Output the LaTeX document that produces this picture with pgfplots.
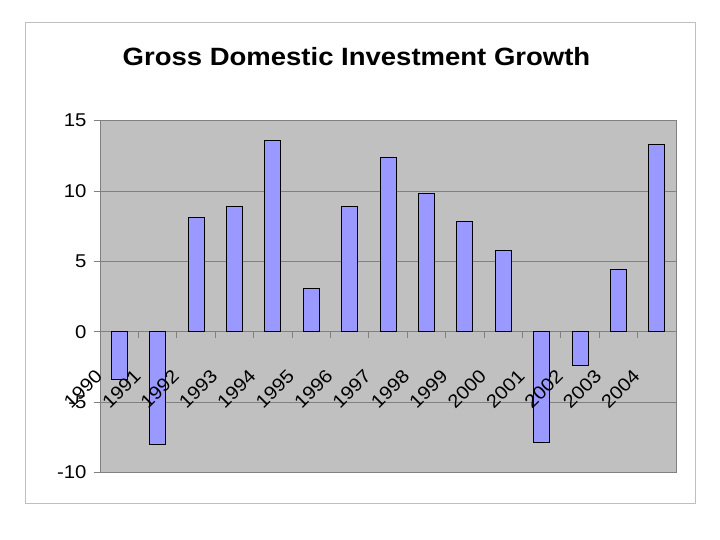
\documentclass[border=0pt]{standalone}
\usepackage{fontspec}
\setmainfont{Liberation Sans}[FakeStretch=1.1]
\usepackage{pgfplots}
\pgfplotsset{compat=1.18}
\definecolor{plotbg}{HTML}{C0C0C0}
\definecolor{barfill}{HTML}{9999FF}
\definecolor{gridc}{HTML}{808080}
\pgfplotsset{
  common/.style={
    at={(100pt,-472.5pt)}, anchor=south west,
    width=576pt, height=352pt, scale only axis,
    xmin=-0.5, xmax=14.5, ymin=-10, ymax=15,
    hide obscured x ticks=false, hide obscured y ticks=false,
    ticklabel style={font=\fontsize{18.5}{20}\selectfont},
    /pgf/number format/assume math mode=true,
  },
}
\begin{document}
\begin{tikzpicture}[x=1pt,y=1pt]
\useasboundingbox (0,0) rectangle (720,-540);
\draw[color=black!25, line width=0.8pt] (25,-22) rectangle (695,-503);
\node[anchor=base, font=\fontsize{25}{30}\selectfont\bfseries] at (356.5,-66) {Gross Domestic Investment Growth};
\begin{axis}[
  common,
  axis x line=middle, axis y line=left,
  axis line style={draw=gridc, line width=0.8pt, -},
  axis background/.style={fill=plotbg, draw=gridc, line width=0.8pt},
  ytick={-10,-5,0,5,10,15},
  ymajorgrids, grid style={gridc, line width=0.8pt},
  xtick={-0.5,0.5,...,14.5},
  xticklabels={},
  tick align=outside, major tick length=6pt,
  tick style={gridc, line width=0.8pt},
  yticklabel style={xshift=-4pt},
  ybar, bar width=16pt,
  clip=false,
]
\addplot[fill=barfill, draw=black, line width=1pt] coordinates {
(0,-3.4) (1,-8.0) (2,8.1) (3,8.9) (4,13.6) (5,3.1) (6,8.9) (7,12.4)
(8,9.8) (9,7.8) (10,5.8) (11,-7.9) (12,-2.4) (13,4.4) (14,13.3)};
\end{axis}
\begin{axis}[
  common,
  axis x line=middle, axis y line=none,
  axis line style={draw=none},
  ytick=\empty,
  xtick={-0.5,0.5,...,13.5},
  xticklabels={1990,1991,1992,1993,1994,1995,1996,1997,1998,1999,2000,2001,2002,2003,2004},
  major tick length=0pt, tick style={draw=none},
  xticklabel style={inner sep=0pt, anchor=east, xshift=-1pt, yshift=-41pt, rotate=45},
]
\end{axis}
\end{tikzpicture}
\end{document}
